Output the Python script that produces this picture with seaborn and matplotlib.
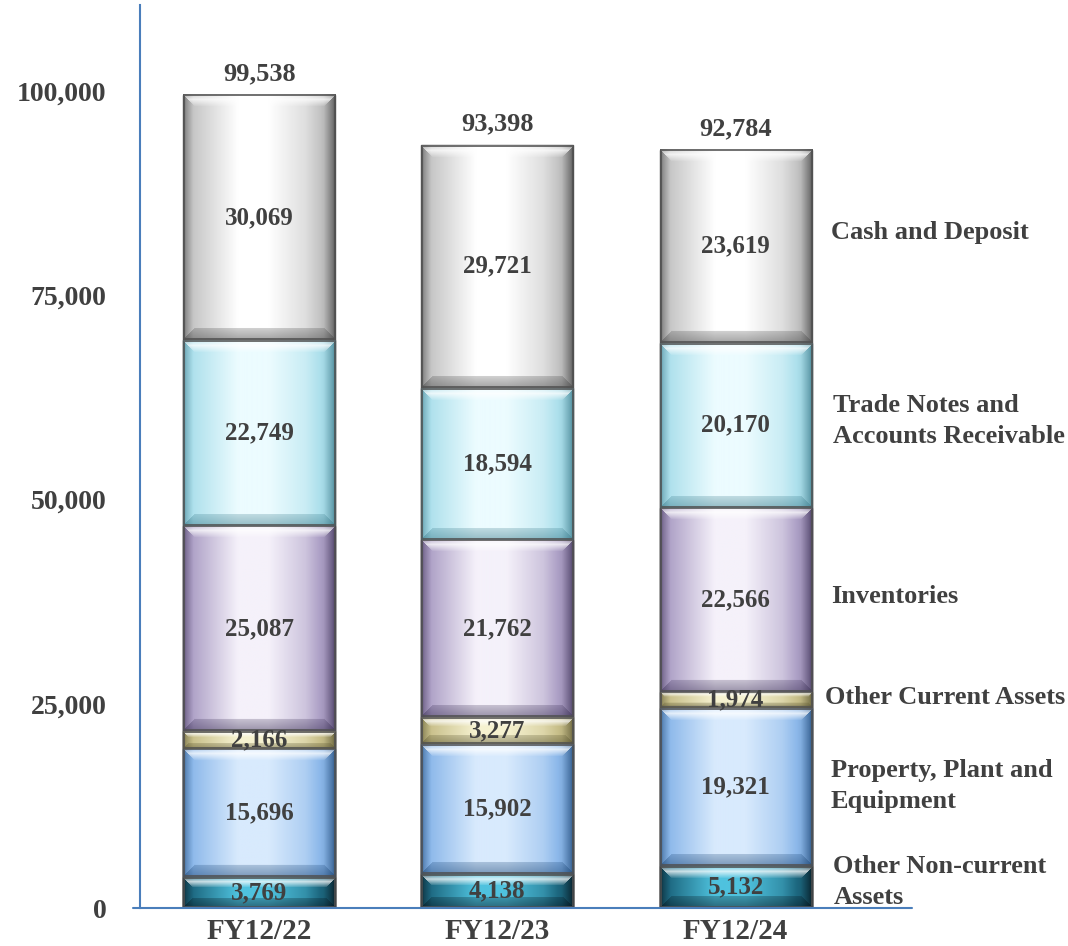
import numpy as np
import pandas as pd
import matplotlib
matplotlib.use("Agg")
import matplotlib.pyplot as plt
import seaborn as sns
from matplotlib.colors import to_rgb

# ---- data (JPY million) ----
years = ["FY12/22", "FY12/23", "FY12/24"]
segment_names = [
    "Other Non-current\nAssets",
    "Property, Plant and\nEquipment",
    "Other Current Assets",
    "Inventories",
    "Trade Notes and\nAccounts Receivable",
    "Cash and Deposit",
]
other_noncurrent = [3769, 4138, 5132]
ppe = [15696, 15902, 19321]
other_current = [2166, 3277, 1974]
inventories = [25087, 21762, 22566]
receivables = [22749, 18594, 20170]
cash = [30069, 29721, 23619]
totals = [99538, 93398, 92784]
yticks = [0, 25000, 50000, 75000, 100000]

# ---- styling ----
TEXT = "#404040"
AXIS_BLUE = "#4a7ebb"
# (edge shade, body shade, highlight shade) for each layer, bottom to top
shades = [
    ("#04121a", "#1d6880", "#4fc2de"),
    ("#1e4878", "#8cb8ea", "#d8eafd"),
    ("#5a5530", "#c8bf8a", "#f6f2d0"),
    ("#3e3258", "#ada0c6", "#f5f1fa"),
    ("#3c7c8c", "#ade0ec", "#ecfcff"),
    ("#484848", "#c4c4c4", "#ffffff"),
]
label_y = [3180, 14930, 25700, 38070, 59610, 82620]
label_x = [2.41, 2.40, 2.375, 2.40, 2.41, 2.40]

sns.set_theme(style="white")
plt.rcParams["font.family"] = ["Liberation Serif", "DejaVu Serif"]
plt.rcParams["font.weight"] = "bold"

layers = [other_noncurrent, ppe, other_current, inventories, receivables, cash]
tops = np.cumsum(np.array(layers), axis=0)
bottoms = np.vstack([np.zeros(len(years)), tops[:-1]])

fig = plt.figure(figsize=(10.68, 9.46), dpi=100)
ax = fig.add_axes([140 / 1068, 1 - 908 / 946, 772 / 1068, 903 / 946])

BAR_W = 0.638
# stacked bars: draw cumulative heights from the top layer down
for k in range(len(layers) - 1, -1, -1):
    df = pd.DataFrame({"year": years, "top": tops[k]})
    sns.barplot(data=df, x="year", y="top", order=years, color=shades[k][1],
                saturation=1, width=BAR_W, errorbar=None, edgecolor="#505050",
                linewidth=1.0, ax=ax)

ax.set_xlim(-0.5, 2.74)
ax.set_ylim(0, 110500)

px_per_x = 772 / 3.24
px_per_y = 903 / 110500


def bevel_image(edge, body, light, w_px, h_px):
    edge, body, light = (np.array(to_rgb(c)) for c in (edge, body, light))
    nx = max(int(round(w_px)), 4)
    ny = max(int(round(h_px)), 4)
    u = (np.arange(nx) + 0.5) / nx
    t = np.interp(u, [0, 0.02, 0.07, 0.36, 0.56, 0.8, 0.92, 0.975, 1.0],
                  [0.1, 0.35, 0.62, 1.0, 1.0, 0.78, 0.55, 0.25, 0.05])
    lo = edge + (body - edge) * np.clip(t / 0.6, 0, 1)[:, None]
    hi = body + (light - body) * np.clip((t - 0.6) / 0.4, 0, 1)[:, None]
    row = np.where((t < 0.6)[:, None], lo, hi)
    img = np.repeat(row[None, :, :], ny, axis=0)
    yy, xx = np.mgrid[0:ny, 0:nx] + 0.5
    dt, db, dl, dr = yy, ny - yy, xx, nx - xx
    b = min(12.0, ny / 3.0)
    top = (dt < b) & (dt <= dl) & (dt <= dr)
    bot = (db < b) & (db <= dl) & (db <= dr)
    wt = np.clip(1 - np.abs(dt - b * 0.45) / (b * 0.6), 0, 1) * 0.75
    img[top] = img[top] * (1 - wt[top, None]) + wt[top, None]
    wb = 0.25 + 0.25 * (1 - db / b)
    img[bot] = img[bot] * (1 - wb[bot, None]) + edge * wb[bot, None]
    d = np.minimum(np.minimum(dt, db), np.minimum(dl, dr))
    ring = d < 2.2
    img[ring] = img[ring] * 0.2 + np.array(to_rgb("#505050")) * 0.8
    return img


# shaded face for every segment, placed on the bar patches seaborn drew
for k, cont in enumerate(ax.containers[::-1]):
    for j, patch in enumerate(cont.patches):
        x0 = patch.get_x()
        w = patch.get_width()
        y1 = patch.get_height()
        y0 = bottoms[k][j]
        img = bevel_image(*shades[k], w * px_per_x, (y1 - y0) * px_per_y)
        ax.imshow(img, extent=[x0, x0 + w, y0, y1], aspect="auto",
                  interpolation="bilinear", zorder=3)
        ax.text(x0 + w / 2, (y0 + y1) / 2, f"{layers[k][j]:,}", ha="center",
                va="center", fontsize=18, color=TEXT, fontweight="bold", zorder=5)

for j, tot in enumerate(totals):
    ax.annotate(f"{tot:,}", (j, tot), xytext=(0, 7), textcoords="offset points",
                ha="center", va="bottom", fontsize=19, color=TEXT,
                fontweight="bold", zorder=5)

for name, xx, yy in zip(segment_names, label_x, label_y):
    ax.text(xx, yy, name, ha="left", va="center", fontsize=19, color=TEXT,
            fontweight="bold", linespacing=1.45, clip_on=False, zorder=5)

ax.set_xlim(-0.5, 2.74)
ax.set_ylim(0, 110500)
ax.set_yticks(yticks)
ax.set_yticklabels([f"{v:,}" for v in yticks])
ax.set_xlabel("")
ax.set_ylabel("")
ax.tick_params(axis="y", direction="in", length=6, width=1.5, color=AXIS_BLUE,
               pad=24, labelsize=20, labelcolor=TEXT)
ax.tick_params(axis="x", length=0, pad=7, labelsize=21, labelcolor=TEXT)
for lbl in ax.get_xticklabels() + ax.get_yticklabels():
    lbl.set_fontweight("bold")

for side in ("top", "right", "bottom"):
    ax.spines[side].set_visible(False)
ax.spines["left"].set_color(AXIS_BLUE)
ax.spines["left"].set_linewidth(1.5)
ax.plot([-0.009, 1.0], [0, 0], transform=ax.transAxes, color=AXIS_BLUE, lw=1.5,
        clip_on=False, zorder=6)

fig.savefig("out.png", dpi=100, facecolor="white")
